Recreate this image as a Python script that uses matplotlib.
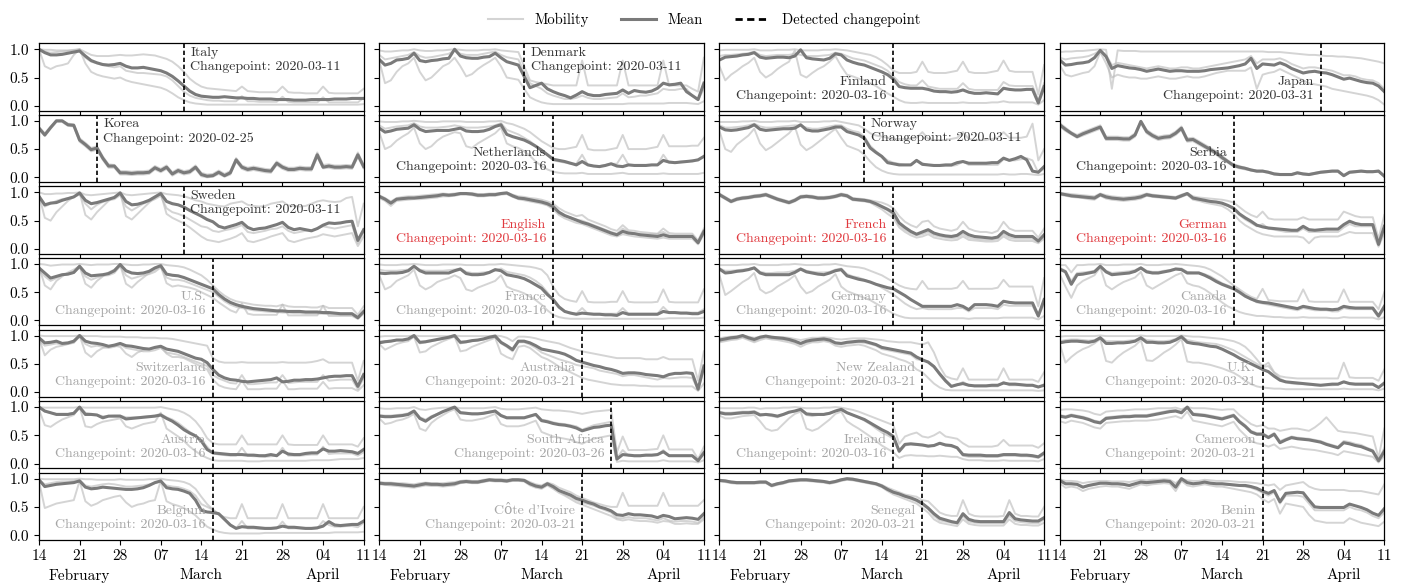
import numpy as np
import matplotlib
matplotlib.use('Agg')
import matplotlib.pyplot as plt
from matplotlib.lines import Line2D

plt.rcParams['font.family'] = ['cmr10', 'DejaVu Serif']
plt.rcParams['mathtext.fontset'] = 'cm'
plt.rcParams['axes.formatter.use_mathtext'] = True
plt.rcParams['axes.unicode_minus'] = False

# day index 0..56 = 2020-02-14 .. 2020-04-11 (no Feb 29 in the data)
tick_pos = [0, 7, 14, 21, 28, 35, 42, 49, 56]
tick_labels = ['14', '21\nFebruary', '28', '07', '14\nMarch', '21', '28', '04\nApril', '11']

# values in percent of baseline, one list per day
italy_mean = [100,94,90,90,91,93,95, 97,88,80,76,73,72,73, 75,70,67,67,68,66,64, 62,58,52,44,35,26,20,
              17,16,15,15,16,15,14, 14,13,13,12,12,12,11, 11,11,10,10,10,11,11, 11,11,12,12,12,13,13, 13]
italy_mob = [
    [100,99,99,98,98,98,99, 100,95,90,88,88,88,89, 90,89,89,90,91,90,89, 86,83,78,70,60,48,40,
     34,31,30,29,28,27,26, 34,26,25,24,24,24,24, 34,24,23,23,22,22,22, 34,23,22,22,22,22,22, 30],
    [100,70,65,70,72,75,90, 100,75,60,55,52,50,48, 50,45,42,40,38,36,34, 32,28,22,15,10,6,4,
     3,2,2,2,2,2,2, 2,2,2,2,2,2,2, 2,2,2,2,2,2,2, 2,2,2,2,2,2,2, 3],
    [100,96,94,95,96,97,98, 100,85,78,75,72,70,68, 70,62,60,58,58,57,56, 55,52,45,35,25,18,14,
     12,10,9,9,8,8,8, 17,8,8,7,7,7,7, 16,7,6,6,6,6,6, 15,6,6,6,6,6,6, 14],
]

korea_mean = [87,75,88,100,100,93,92, 66,58,49,52,34,20,20, 8,8,7,8,8,9,17, 12,18,6,12,8,10,18,
              5,2,3,9,3,8,31, 18,14,16,14,12,11,25, 18,14,14,16,15,15,40, 18,20,18,18,19,18,40, 19]
korea_mob = [
    [89,78,90,100,100,95,94, 69,61,52,55,37,23,22, 11,11,10,11,11,12,20, 15,21,9,15,11,13,21,
     8,5,6,12,6,11,34, 21,17,19,17,15,14,28, 21,17,17,19,18,18,44, 22,23,21,21,22,21,44, 22],
    [85,73,86,98,98,91,90, 63,55,46,49,31,17,17, 5,5,4,5,5,6,14, 9,15,3,9,5,7,15,
     2,0,1,6,1,5,28, 15,11,13,11,9,8,22, 15,11,11,13,12,12,36, 16,17,15,15,16,15,36, 16],
]

sweden_mean = [93,78,81,82,86,89,92, 99,86,80,82,85,88,91, 99,84,78,79,82,86,92, 98,84,80,78,74,68,63,
               58,52,48,40,37,40,43, 47,38,34,36,37,40,43, 47,38,34,36,34,32,36, 42,46,45,46,48,49,15, 34]
sweden_mob = [
    [100,97,97,98,98,99,99, 100,96,95,96,97,98,99, 100,96,95,96,97,98,99, 100,97,96,95,93,90,86,
     84,80,78,76,75,80,82, 84,78,76,75,76,80,82, 84,77,76,75,76,80,84, 86,84,83,84,90,92,40, 80],
    [95,55,50,65,75,85,92, 100,60,52,65,75,85,92, 100,58,52,62,72,82,90, 98,62,55,50,45,38,30,
     22,16,14,12,15,18,22, 28,14,12,15,18,22,25, 28,15,12,15,18,20,22, 26,24,22,24,26,28,5, 22],
    [90,75,80,85,88,90,92, 96,80,70,78,83,86,88, 95,75,68,74,80,84,88, 94,72,65,62,58,52,46,
     40,38,32,30,33,35,38, 42,30,28,30,32,35,36, 40,32,28,30,32,33,36, 40,38,36,38,40,42,10, 30],
]

us_mean = [93,84,75,78,81,82,85, 96,84,79,80,81,83,88, 99,88,84,83,84,87,93, 97,82,80,79,76,72,68,
           64,60,56,46,38,32,28, 25,23,21,20,19,18,17, 17,16,16,16,15,15,15, 14,14,13,12,12,12,5, 16]
us_mob = [
    [100,99,97,98,99,99,99, 100,99,98,99,99,99,100, 100,99,98,98,99,99,100, 100,98,97,96,94,90,85,
     80,72,62,52,44,38,34, 32,30,28,27,26,26,25, 28,25,24,24,24,23,23, 26,22,22,22,22,22,10, 25],
    [95,62,55,70,78,85,90, 96,65,58,70,78,85,90, 98,65,58,68,76,84,90, 96,66,60,62,60,58,55,
     50,45,40,32,25,18,14, 30,12,10,10,10,10,10, 28,9,9,9,9,9,9, 26,8,8,8,8,8,3, 12],
    [90,78,70,75,80,82,84, 94,78,72,76,79,80,84, 96,80,74,77,80,82,86, 94,76,72,72,70,66,62,
     58,54,50,42,34,28,24, 22,20,18,17,16,15,15, 14,14,13,13,12,12,12, 12,11,11,10,10,10,3, 14],
]

switzerland_mean = [96,87,88,90,86,87,90, 100,90,87,86,84,81,83, 86,82,81,79,77,76,79, 81,76,74,72,68,64,60,
                    58,52,40,30,25,22,21, 19,18,19,20,21,22,25, 18,19,21,21,22,22,23, 25,27,28,28,29,29,10, 31]
switzerland_mob = [
    [100,99,99,99,99,99,99, 100,99,99,99,98,98,98, 98,97,97,97,96,96,96, 95,95,94,92,90,88,86,
     84,82,60,54,52,52,52, 53,52,52,52,52,52,52, 53,52,52,52,52,53,55, 58,52,52,52,52,52,20, 55],
    [95,65,75,80,82,85,88, 100,70,62,72,78,80,82, 80,68,62,70,74,76,78, 80,68,62,62,60,55,50,
     45,40,22,12,8,6,5, 20,5,5,5,6,6,6, 20,5,5,6,6,6,6, 18,6,7,7,7,7,2, 12],
    [92,82,84,86,84,85,87, 98,85,80,82,80,78,80, 84,78,76,74,72,72,74, 78,70,68,66,62,58,54,
     50,46,30,24,20,16,15, 30,14,14,15,16,17,17, 30,16,17,18,18,18,18, 30,20,21,22,22,22,5, 25],
]

austria_mean = [100,93,90,87,87,87,89, 100,87,87,86,81,84,84, 84,79,80,81,82,83,84, 86,80,75,68,60,54,49,
                40,25,19,18,17,16,16, 16,15,15,14,14,16,14, 22,17,16,16,18,19,19, 26,22,22,23,22,21,18, 25]
austria_mob = [
    [100,99,99,99,99,99,99, 100,99,99,99,99,99,99, 99,99,99,99,99,99,99, 100,98,96,94,90,84,75,
     62,45,36,34,34,34,34, 50,34,34,34,34,34,34, 50,34,33,33,33,33,33, 50,34,34,34,34,34,30, 45],
    [96,68,65,72,78,82,86, 100,66,64,70,74,76,78, 80,66,62,66,70,72,74, 90,62,55,48,40,30,22,
     15,10,6,5,5,5,5, 5,4,4,4,5,5,5, 5,5,5,5,5,6,6, 6,6,7,8,8,8,8, 10],
    [100,92,90,88,88,88,90, 100,90,88,86,84,84,85, 85,82,82,82,83,84,85, 88,82,78,72,64,56,50,
     42,30,18,16,15,14,14, 28,14,13,13,12,13,14, 28,14,14,14,15,16,16, 30,17,18,18,18,18,14, 20],
]

belgium_mean = [98,86,88,90,91,92,93, 96,85,82,83,85,84,83, 82,81,81,82,84,88,93, 96,84,82,81,78,74,62,
                44,41,40,38,28,18,12, 15,14,14,13,12,12,13, 16,14,14,13,12,12,13, 16,24,18,17,18,19,19, 25]
belgium_mob = [
    [100,99,99,99,99,99,99, 100,99,99,98,98,98,98, 99,98,98,98,98,99,99, 100,98,97,96,94,90,82,
     68,55,45,36,32,30,30, 55,30,30,30,30,30,30, 55,30,30,30,30,30,30, 55,30,30,30,30,30,30, 50],
    [95,48,52,56,58,60,62, 96,60,52,56,62,65,68, 70,58,50,54,56,60,62, 96,60,55,52,48,42,35,
     25,15,10,6,4,3,3, 3,3,3,3,4,4,4, 4,4,4,4,4,4,4, 4,4,5,5,5,5,5, 6],
    [98,90,92,94,95,95,96, 98,88,86,88,90,91,90, 88,86,86,87,88,90,92, 95,88,86,85,82,78,70,
     55,50,45,38,28,18,12, 25,12,12,11,11,11,12, 24,12,12,12,11,11,12, 25,18,15,15,16,16,14, 22],
]

denmark_mean = [82,72,75,81,82,84,93, 80,78,80,81,83,84,100, 88,85,84,84,86,87,93, 85,78,75,72,52,32,36,
                40,30,25,21,18,14,19, 25,20,18,18,20,21,22, 28,22,27,25,24,26,31, 40,37,38,40,25,18,11, 40]
denmark_mob = [
    [98,96,96,97,98,98,100, 98,97,97,98,98,99,100, 99,98,98,98,99,99,100, 98,97,96,95,70,45,42,
     40,38,36,36,36,36,36, 80,36,36,36,36,36,36, 80,36,36,36,36,36,36, 80,36,36,36,36,30,25, 85],
    [80,40,45,60,70,75,85, 60,45,50,60,70,75,85, 70,52,56,65,72,78,85, 70,50,48,46,30,15,10,
     6,4,3,3,3,3,3, 3,3,3,3,3,3,3, 3,4,4,4,4,4,4, 4,5,5,5,5,4,3, 8],
    [90,82,84,86,88,90,95, 88,85,86,88,90,92,98, 92,90,90,90,92,94,96, 90,86,84,82,60,40,35,
     30,22,18,15,12,12,14, 18,14,12,12,13,14,15, 22,15,16,18,18,20,22, 30,28,28,30,30,18,10, 30],
]

netherlands_mean = [87,80,82,85,86,87,93, 85,81,82,83,83,83,85, 87,82,81,81,82,85,90, 93,76,72,69,66,61,55,
                    48,40,32,30,28,25,22, 28,22,20,19,21,24,20, 19,22,21,21,21,22,22, 30,27,26,27,28,29,31, 37]
netherlands_mob = [
    [99,98,98,98,99,99,100, 99,98,98,98,99,99,99, 99,98,98,98,98,99,99, 100,96,94,90,86,80,72,
     64,58,52,50,50,52,54, 75,50,48,48,48,50,52, 75,50,50,50,50,52,54, 75,55,55,55,55,56,56, 70],
    [80,50,55,65,72,78,88, 60,50,55,65,72,76,80, 78,55,52,60,66,72,78, 88,60,55,52,46,38,28,
     20,14,10,8,7,7,7, 8,6,6,6,6,6,7, 8,6,6,6,6,6,6, 7,6,6,6,6,6,6, 8],
    [92,86,88,90,91,92,96, 90,88,88,88,89,90,92, 90,88,88,88,89,90,92, 96,84,80,76,70,64,56,
     48,40,30,28,26,24,24, 40,22,20,20,22,24,24, 40,22,22,22,22,22,22, 40,26,26,28,28,30,30, 38],
]

english_mean = [93,88,81,88,89,90,90, 91,92,93,94,96,95,96, 98,98,97,95,95,96,96, 98,99,94,90,89,87,85,
                83,80,75,65,59,55,51, 47,44,40,36,32,28,25, 31,28,27,25,24,23,22, 25,22,22,22,22,22,11, 31]
english_mob = [
    [95,90,84,90,92,93,93, 94,95,96,97,98,97,98, 99,99,99,97,97,98,98, 99,100,96,93,92,90,89,
     87,84,80,72,66,62,58, 60,52,48,44,40,35,32, 42,33,32,30,29,28,27, 36,28,27,27,27,27,15, 36],
    [90,85,76,85,86,87,88, 88,89,90,91,93,93,94, 96,96,95,93,93,94,94, 96,97,92,88,86,84,82,
     80,77,70,60,54,50,46, 44,40,36,32,28,24,22, 26,24,22,21,20,19,18, 20,18,18,18,18,18,8, 26],
    [93,88,80,88,89,90,90, 91,92,93,94,96,95,96, 98,98,97,95,95,96,96, 98,99,93,89,88,86,84,
     82,78,73,62,58,56,52, 50,46,42,38,34,30,27, 36,30,28,26,26,26,26, 30,24,24,24,24,24,10, 30],
]

france_mean = [84,83,84,84,85,88,96, 88,84,84,84,84,84,88, 91,83,81,81,82,85,90, 88,81,79,77,74,69,63,
               57,46,37,24,16,13,11, 13,12,11,11,10,10,9, 14,11,11,11,11,11,11, 16,14,14,13,13,12,12, 16]
france_mob = [
    [99,98,98,98,99,99,100, 99,98,98,98,99,99,99, 99,98,98,98,98,99,99, 100,99,98,97,96,95,93,
     90,80,60,45,38,35,33, 52,33,32,32,32,33,33, 52,33,32,32,32,32,33, 55,33,32,32,32,32,32, 55],
    [80,55,60,70,75,80,90, 62,55,60,68,72,75,80, 75,55,52,58,62,66,70, 80,60,55,52,48,42,36,
     28,18,10,6,4,3,3, 3,3,3,3,3,3,3, 3,3,3,3,3,3,3, 3,4,4,4,4,4,4, 5],
    [90,88,88,88,89,90,96, 90,88,88,88,88,89,90, 92,86,84,84,85,86,88, 92,86,84,82,80,76,70,
     62,50,36,22,16,14,12, 22,12,12,12,12,12,12, 22,12,12,12,12,12,12, 24,14,14,14,14,14,14, 20],
]

australia_mean = [87,89,90,92,92,94,100, 88,89,91,93,95,97,100, 88,89,91,92,94,97,99, 88,82,75,90,90,87,82,
                  76,74,72,70,67,62,56, 53,50,47,45,42,40,37, 33,34,34,33,31,30,29, 27,31,33,33,34,33,5, 46]
australia_mob = [
    [98,99,99,99,99,99,100, 99,99,99,99,99,99,100, 99,99,99,99,99,99,100, 99,96,90,98,98,97,95,
     92,90,88,86,82,78,75, 72,70,68,66,64,62,60, 60,60,60,60,58,58,58, 62,58,58,58,58,58,20, 72],
    [85,75,80,85,88,90,98, 70,72,80,85,90,94,98, 72,74,80,84,88,92,96, 68,62,58,80,82,78,70,
     62,58,52,45,40,35,30, 25,22,20,18,16,14,13, 12,12,12,11,11,10,10, 10,10,10,10,10,10,2, 15],
    [90,90,91,92,92,93,98, 86,88,90,92,94,96,98, 86,88,90,91,93,95,98, 86,80,72,88,88,84,78,
     70,66,62,58,55,52,48, 46,44,42,38,36,34,32, 28,30,30,28,26,24,22, 25,24,25,26,26,25,4, 40],
]

south_africa_mean = [84,83,83,84,85,87,93, 80,75,82,87,92,96,100, 90,89,88,88,89,91,93, 85,81,81,81,81,84,87,
                     76,74,71,69,68,66,63, 58,61,64,65,67,68,8, 16,15,14,14,15,15,16, 21,14,14,14,14,14,5, 19]
south_africa_mob = [
    [98,97,97,98,98,98,100, 96,95,97,98,99,99,100, 98,98,98,98,98,99,100, 97,96,96,96,97,98,99,
     96,95,94,94,93,92,90, 88,90,92,93,94,95,20, 48,24,24,24,24,25,26, 50,25,25,25,25,25,8, 30],
    [80,70,72,76,78,82,88, 62,58,72,80,86,92,96, 78,76,76,78,80,84,88, 70,66,66,66,68,72,76,
     56,52,48,46,44,42,38, 35,40,44,46,48,50,3, 5,4,4,4,4,4,4, 6,4,4,4,4,4,2, 6],
    [86,85,85,86,87,89,94, 82,78,84,88,93,96,100, 91,90,89,89,90,92,94, 86,82,82,82,82,85,88,
     78,76,73,71,70,68,66, 60,64,68,70,72,74,10, 24,14,13,13,14,14,15, 24,14,14,14,14,14,5, 22],
]

cote_mean = [92,91,91,90,89,88,87, 89,91,90,90,89,90,91, 94,95,94,94,96,98,97, 97,96,98,98,97,91,87,
             85,91,86,79,75,71,65, 62,58,55,50,47,43,36, 35,38,36,36,35,34,31, 35,33,29,30,31,30,28, 38]
cote_mob = [
    [94,93,93,92,92,91,90, 92,93,92,92,92,93,94, 96,97,96,96,98,99,99, 99,98,99,99,98,94,90,
     88,93,90,84,80,76,70, 66,62,58,55,52,50,50, 75,52,52,52,52,52,52, 75,52,52,52,52,52,52, 62],
    [90,89,88,87,86,85,84, 86,88,87,87,86,87,88, 92,93,92,92,94,96,95, 95,94,96,96,95,88,84,
     82,88,82,75,70,64,58, 54,50,46,42,38,34,28, 26,28,26,25,25,24,22, 25,24,20,20,21,20,20, 28],
    [91,90,90,89,88,87,86, 88,90,89,89,88,89,90, 93,94,93,93,95,97,96, 96,95,97,97,96,90,86,
     84,90,84,78,72,68,62, 58,55,52,48,44,40,30, 30,32,30,30,30,28,26, 30,26,24,25,25,24,22, 32],
]

finland_mean = [81,86,87,88,90,91,94, 86,84,85,86,86,85,88, 99,85,83,82,81,84,92, 90,81,77,74,72,68,64,
                60,55,47,34,32,31,31, 31,29,26,25,25,24,25, 28,24,22,22,23,22,21, 31,29,28,28,29,29,5, 34]
finland_mob = [
    [98,99,99,99,99,99,100, 98,98,98,99,99,99,100, 98,98,98,98,99,99,100, 99,98,96,94,92,90,86,
     80,72,62,58,58,58,60, 78,60,58,58,58,60,62, 78,60,58,58,58,60,62, 80,62,60,60,60,60,20, 72],
    [70,45,55,62,70,76,85, 60,50,56,65,72,78,98, 55,50,58,65,70,78,88, 70,55,52,48,45,40,35,
     28,22,16,10,6,5,5, 6,5,5,5,5,5,5, 6,5,5,5,5,6,6, 8,6,6,6,6,6,2, 10],
    [88,90,90,91,92,93,96, 90,88,89,90,90,90,92, 90,88,88,88,89,90,94, 92,88,84,82,80,76,72,
     68,62,52,42,38,36,36, 45,34,32,30,30,30,30, 40,30,28,28,28,28,28, 42,36,35,35,35,35,10, 40],
]

norway_mean = [89,84,83,84,86,88,93, 85,83,84,85,86,86,87, 93,84,82,82,84,86,89, 89,81,78,75,69,52,44,
               37,26,24,22,22,22,30, 23,22,21,21,22,22,26, 28,25,25,25,25,26,26, 34,30,33,37,31,11,9, 19]
norway_mob = [
    [98,98,98,98,99,99,100, 98,98,98,99,99,99,100, 98,98,98,98,99,99,100, 98,96,94,92,86,78,74,
     72,70,68,68,68,68,70, 80,68,66,66,66,68,70, 80,68,66,66,66,68,70, 80,70,70,70,72,95,30, 50],
    [82,50,45,58,66,74,86, 60,48,54,62,70,78,90, 58,48,54,62,70,78,86, 70,56,52,48,40,28,18,
     12,8,6,5,5,5,5, 5,5,5,5,5,5,5, 5,5,5,5,5,5,5, 6,5,5,6,6,5,4, 6],
    [92,88,88,89,90,92,95, 90,88,88,89,90,91,92, 92,88,86,86,88,90,92, 92,86,82,80,72,56,46,
     38,30,26,24,22,22,30, 25,22,20,20,20,20,22, 28,22,22,22,22,22,22, 32,30,30,32,34,30,8, 15],
]

french_mean = [96,90,84,88,90,91,93, 94,96,92,88,85,82,86, 92,93,92,90,90,91,93, 96,94,88,87,86,84,80,
               75,70,64,46,38,31,26, 30,34,28,25,23,22,24, 31,25,22,21,20,19,21, 31,25,22,22,22,22,14, 25]
french_mob = [
    [98,92,86,90,92,93,95, 96,98,94,90,87,84,88, 94,95,94,92,92,93,95, 98,96,90,89,88,86,84,
     82,78,72,58,48,42,38, 48,50,40,36,34,32,35, 48,36,32,30,30,28,32, 48,36,32,32,32,32,20, 36],
    [94,88,82,86,88,89,91, 92,94,90,86,83,80,84, 90,91,90,88,88,89,91, 94,92,86,85,84,82,76,
     70,62,55,38,30,24,20, 22,26,20,18,16,15,16, 22,16,15,14,13,13,14, 22,16,14,14,14,14,10, 18],
    [95,90,83,88,89,90,92, 93,95,91,87,84,81,85, 91,92,91,89,89,90,92, 95,93,87,86,85,83,79,
     74,68,60,42,34,28,24, 26,30,24,22,20,19,20, 26,20,18,17,16,16,18, 26,20,18,18,18,18,12, 22],
]

germany_mean = [91,84,85,87,88,90,93, 84,81,81,81,81,81,85, 91,86,84,82,81,84,88, 90,79,76,73,71,68,64,
                61,58,56,50,44,37,31, 25,25,25,25,25,25,28, 25,19,28,28,28,27,25, 34,32,31,31,31,31,8, 37]
germany_mob = [
    [98,98,98,98,99,99,100, 98,98,98,98,99,99,100, 99,98,98,98,99,99,100, 98,96,95,94,92,88,84,
     80,74,68,62,58,56,55, 70,56,56,56,56,56,58, 70,56,56,56,56,56,58, 72,60,60,60,60,60,25, 75],
    [80,45,52,60,68,74,84, 55,48,52,60,66,72,80, 60,48,52,60,66,72,82, 60,52,48,44,40,36,30,
     24,18,12,8,5,4,4, 4,4,4,4,4,4,4, 4,3,4,4,4,4,4, 5,5,5,5,5,5,2, 8],
    [92,88,88,89,90,91,94, 86,84,84,85,85,86,88, 92,88,86,85,85,86,90, 92,82,78,76,72,68,64,
     58,52,46,38,30,24,20, 22,20,20,20,20,20,22, 22,16,22,22,22,22,20, 28,26,26,26,26,26,6, 30],
]

nz_mean = [92,94,96,97,100,96,93, 97,99,97,96,95,93,90, 86,90,92,93,94,92,87, 86,88,89,90,90,87,84,
           79,77,75,73,71,69,62, 57,53,45,32,20,10,13, 15,12,11,11,11,12,12, 16,14,14,13,12,12,9, 12]
nz_mob = [
    [95,97,98,99,100,98,96, 98,99,98,97,97,96,94, 92,94,96,96,97,96,94, 93,94,95,95,95,94,93,
     92,90,89,88,88,88,86, 84,88,70,45,28,24,22, 42,22,22,22,22,22,22, 42,22,22,22,22,22,18, 35],
    [88,90,92,93,96,92,88, 92,95,93,92,90,88,85, 80,85,88,88,90,88,82, 80,82,83,84,82,78,74,
     68,65,62,58,55,50,40, 35,25,15,8,4,3,3, 3,3,3,3,3,3,3, 3,3,3,3,3,3,2, 3],
    [90,92,94,95,98,94,90, 95,97,95,94,93,91,88, 84,88,90,91,92,90,86, 84,86,87,88,87,85,82,
     76,74,72,70,68,66,58, 56,54,46,30,18,10,12, 18,12,10,10,10,10,10, 18,12,12,12,12,12,8, 14],
]

ireland_mean = [90,88,88,89,90,90,91, 86,87,86,84,87,91,93, 96,88,87,87,87,89,93, 96,90,86,82,78,72,66,
                60,55,48,22,34,35,34, 33,31,32,36,33,32,28, 16,15,15,15,14,14,14, 16,16,16,15,15,14,12, 19]
ireland_mob = [
    [98,98,98,98,98,99,99, 97,98,98,98,99,99,100, 99,98,98,98,99,99,100, 99,97,95,92,88,84,80,
     76,72,68,35,48,52,55, 48,46,50,56,48,46,44, 36,30,30,30,30,30,32, 42,32,32,32,32,32,28, 36],
    [85,80,80,82,84,85,86, 75,62,58,60,70,80,88, 92,62,58,62,70,78,88, 92,75,68,62,55,48,40,
     32,26,20,10,14,15,14, 14,13,13,14,13,12,12, 8,6,6,6,5,5,5, 6,5,5,5,5,5,4, 8],
    [92,90,90,91,92,92,93, 88,86,84,82,86,90,93, 96,86,84,86,88,90,93, 96,90,86,82,76,70,62,
     55,50,44,20,32,34,33, 32,30,32,36,32,30,28, 14,12,12,12,12,12,12, 14,14,14,13,13,12,10, 16],
]

senegal_mean = [97,96,94,93,93,93,93, 94,94,88,91,93,96,97, 98,98,97,96,95,93,95, 98,100,99,97,95,93,91,
                87,81,76,73,69,66,62, 56,48,38,30,27,24,22, 38,28,25,24,24,24,24, 24,40,29,27,26,25,25, 31]
senegal_mob = [
    [98,97,95,94,94,94,94, 95,95,89,92,94,97,98, 99,99,98,97,96,94,96, 99,100,100,98,96,94,92,
     89,84,80,76,72,70,68, 62,60,50,40,36,34,34, 62,38,34,33,33,33,33, 34,62,38,34,34,33,33, 50],
    [95,94,92,91,91,91,91, 92,92,86,89,91,94,95, 96,96,95,94,93,91,93, 96,98,97,95,93,91,89,
     85,78,72,68,64,60,56, 48,40,28,22,20,18,16, 28,20,18,17,17,17,17, 17,28,20,18,18,17,17, 22],
    [96,95,93,92,92,92,92, 93,93,87,90,92,95,96, 97,97,96,95,94,92,94, 97,99,98,96,94,92,90,
     86,80,76,72,68,64,60, 54,46,34,26,24,22,20, 34,24,22,21,21,21,21, 21,34,25,23,22,21,21, 28],
]

japan_mean = [81,72,73,75,76,78,85, 98,87,66,71,69,67,66, 64,61,63,65,63,61,62, 62,61,61,61,62,64,65,
              66,67,69,71,74,84,66, 74,73,72,76,72,66,62, 58,60,61,59,58,55,51, 47,49,46,43,41,40,35, 25]
japan_mob = [
    [95,96,96,97,97,98,99, 100,99,30,98,97,97,97, 96,96,96,96,96,96,96, 96,96,96,96,96,96,96,
     96,96,96,96,96,96,96, 96,95,95,95,94,93,92, 91,90,90,89,88,88,87, 87,86,85,84,82,80,78, 75],
    [72,55,52,55,58,60,70, 95,75,50,55,52,50,50, 48,48,50,52,50,48,48, 50,52,50,50,52,55,58,
     60,62,62,62,62,68,30, 55,58,60,65,60,55,50, 45,40,38,36,34,30,28, 26,24,22,20,18,15,10, 2],
    [85,82,84,85,86,88,92, 98,90,72,76,74,72,70, 68,66,68,70,68,66,66, 68,68,66,66,68,70,72,
     74,76,78,80,82,88,75, 82,82,82,84,80,74,70, 66,68,68,66,64,62,58, 54,54,52,48,46,45,40, 30],
]

serbia_mean = [93,85,78,72,77,81,85, 89,69,69,69,68,68,75, 99,81,74,69,71,72,78, 87,66,67,61,55,49,43,
               35,28,21,18,16,13,11, 11,9,6,5,5,5,8, 6,5,7,9,10,11,11, 3,9,10,11,10,10,11, 2]
serbia_mob = [
    [96,88,80,75,80,84,88, 92,72,72,72,71,71,78, 100,84,77,72,74,75,81, 90,69,70,64,58,52,46,
     38,30,23,20,17,14,12, 12,10,7,6,6,6,9, 7,6,8,10,11,12,12, 4,10,11,12,11,11,12, 3],
    [90,82,76,70,74,78,82, 86,66,66,66,65,65,72, 96,78,71,66,68,69,75, 84,63,64,58,52,46,40,
     32,26,19,16,14,12,10, 10,8,5,4,4,4,7, 5,4,6,8,9,10,10, 2,8,9,10,9,9,10, 1],
]

german_mean = [98,96,94,93,92,91,90, 96,92,90,89,88,89,90, 92,96,94,93,92,91,90, 94,98,90,88,86,84,83,
               81,77,72,62,55,49,42, 39,37,36,35,34,33,33, 40,34,33,34,35,35,35, 43,49,45,43,43,43,8, 40]
german_mob = [
    [99,98,97,96,95,94,93, 98,95,93,92,91,92,93, 95,98,96,95,94,93,92, 96,99,93,91,90,89,88,
     87,85,82,74,66,60,56, 66,54,52,52,52,52,52, 56,52,52,52,52,52,52, 66,62,58,56,56,56,18, 60],
    [96,94,92,91,90,88,87, 94,89,87,86,85,86,87, 89,94,92,91,90,89,88, 92,96,87,85,82,80,78,
     76,70,62,50,42,36,30, 26,24,22,22,22,22,22, 20,10,20,22,22,22,22, 26,30,28,28,28,28,4, 28],
    [97,95,93,92,91,90,89, 95,91,89,88,87,88,89, 91,95,93,92,91,90,89, 93,97,89,87,85,83,82,
     80,76,70,60,52,46,40, 44,36,34,32,30,30,30, 36,30,30,30,30,30,30, 38,44,40,40,40,40,8, 38],
]

canada_mean = [91,86,64,81,82,84,86, 96,86,81,82,83,84,87, 93,86,84,84,86,88,91, 90,84,84,84,80,75,69,
               64,60,56,50,43,38,34, 32,31,29,27,25,23,21, 25,23,21,20,20,19,20, 25,23,22,22,22,22,8, 25]
canada_mob = [
    [98,98,85,98,98,99,99, 100,98,98,98,99,99,99, 100,98,98,98,99,99,100, 99,98,97,96,94,90,84,
     78,70,62,55,48,42,38, 56,36,35,34,34,34,34, 55,34,33,33,33,33,33, 55,33,33,33,33,33,20, 50],
    [82,60,40,62,70,75,80, 94,62,55,62,68,72,76, 86,62,56,62,68,74,80, 84,66,62,60,55,48,40,
     32,25,20,15,12,10,8, 8,7,6,6,5,5,5, 6,5,5,5,5,4,4, 6,5,5,5,5,5,2, 6],
    [93,88,70,84,85,86,88, 96,88,84,85,86,87,89, 94,88,86,86,88,89,92, 92,86,85,85,82,78,72,
     66,62,58,52,44,38,32, 30,28,26,24,22,20,18, 22,20,18,18,18,16,16, 22,20,20,20,20,20,5, 22],
]

uk_mean = [87,89,90,90,89,88,90, 96,86,86,87,87,88,90, 96,88,88,87,87,88,92, 98,88,86,85,83,81,80,
           76,71,66,60,55,50,45, 40,36,28,21,18,17,16, 15,14,13,12,13,14,14, 18,15,14,14,14,14,8, 16]
uk_mob = [
    [98,99,99,99,99,99,99, 100,99,99,99,99,99,99, 100,99,99,99,99,99,99, 100,99,98,98,97,96,95,
     94,92,90,86,80,70,58, 45,52,35,28,26,25,24, 24,24,24,24,24,24,24, 52,26,25,25,25,25,20, 40],
    [85,52,62,70,76,80,86, 94,55,52,62,70,76,82, 92,56,55,62,70,76,84, 94,54,52,52,50,48,45,
     42,38,34,28,20,14,10, 8,7,6,6,5,5,5, 5,5,5,5,5,5,5, 6,5,5,5,5,5,3, 6],
    [90,92,93,93,92,91,92, 97,90,90,90,90,91,92, 97,92,91,90,90,91,94, 98,92,90,88,87,86,85,
     82,78,74,68,62,56,50, 44,46,34,24,18,15,14, 14,13,12,12,12,12,13, 18,14,13,13,13,13,8, 15],
]

cameroon_mean = [84,82,85,83,81,78,74, 72,80,81,82,83,83,84, 84,84,86,88,90,92,93, 90,100,87,86,85,83,81,
                 79,82,85,74,66,56,52, 52,46,52,37,42,46,44, 43,42,40,38,34,31,28, 37,35,32,30,26,22,5, 22]
cameroon_mob = [
    [95,96,96,95,94,92,88, 86,92,93,94,94,95,96, 96,96,97,98,98,98,99, 96,100,98,98,98,97,96,
     95,96,96,86,78,70,66, 68,62,62,58,60,62,62, 60,58,64,72,82,70,58, 56,55,54,52,50,48,10, 62],
    [75,72,76,74,72,68,64, 62,72,73,74,75,75,76, 76,76,77,78,80,82,84, 80,92,76,74,72,70,68,
     66,70,74,60,50,40,36, 34,30,34,26,28,30,28, 26,25,24,22,20,18,15, 22,20,18,16,14,12,2, 14],
    [86,84,87,85,83,80,76, 74,82,83,84,85,85,86, 86,86,88,90,92,94,95, 92,100,89,88,87,85,83,
     81,84,87,76,68,58,54, 54,48,54,40,44,48,46, 45,44,42,40,36,33,30, 40,38,35,33,28,24,6, 28],
]

benin_mean = [97,91,91,90,85,88,90, 92,92,91,91,90,88,91, 94,93,94,95,96,95,85, 100,93,91,92,94,92,91,
              91,90,89,88,88,86,83, 78,74,79,59,74,75,76, 75,62,50,49,49,49,49, 49,55,52,49,45,39,35, 47]
benin_mob = [
    [99,96,96,95,92,94,95, 96,96,95,95,95,94,96, 98,97,98,98,99,98,92, 100,97,96,96,98,97,96,
     96,96,95,94,94,93,92, 90,88,90,80,88,90,92, 94,86,82,80,80,80,80, 80,78,78,78,76,74,72, 90],
    [92,84,86,84,78,82,84, 86,87,86,86,84,82,86, 90,88,90,91,92,91,78, 96,88,86,88,90,88,86,
     86,84,82,80,78,76,72, 64,58,64,38,56,54,52, 50,36,26,24,22,22,22, 22,30,26,22,20,18,16, 24],
    [95,90,90,89,84,87,89, 91,91,90,90,89,87,90, 93,92,93,94,95,94,84, 98,92,90,91,93,91,90,
     90,89,88,87,86,84,80, 75,70,76,56,70,70,70, 68,56,44,44,44,44,44, 44,50,46,44,40,34,30, 40],
]

# panel order, row by row (7 rows x 4 columns)
names = ['Italy', 'Denmark', 'Finland', 'Japan',
         'Korea', 'Netherlands', 'Norway', 'Serbia',
         'Sweden', 'English', 'French', 'German',
         'U.S.', 'France', 'Germany', 'Canada',
         'Switzerland', 'Australia', 'New Zealand', 'U.K.',
         'Austria', 'South Africa', 'Ireland', 'Cameroon',
         'Belgium', 'Côte d\'Ivoire', 'Senegal', 'Benin']
means = [italy_mean, denmark_mean, finland_mean, japan_mean,
         korea_mean, netherlands_mean, norway_mean, serbia_mean,
         sweden_mean, english_mean, french_mean, german_mean,
         us_mean, france_mean, germany_mean, canada_mean,
         switzerland_mean, australia_mean, nz_mean, uk_mean,
         austria_mean, south_africa_mean, ireland_mean, cameroon_mean,
         belgium_mean, cote_mean, senegal_mean, benin_mean]
mobs = [italy_mob, denmark_mob, finland_mob, japan_mob,
        korea_mob, netherlands_mob, norway_mob, serbia_mob,
        sweden_mob, english_mob, french_mob, german_mob,
        us_mob, france_mob, germany_mob, canada_mob,
        switzerland_mob, australia_mob, nz_mob, uk_mob,
        austria_mob, south_africa_mob, ireland_mob, cameroon_mob,
        belgium_mob, cote_mob, senegal_mob, benin_mob]
cp_idx = [25, 25, 30, 45,
          10, 30, 25, 30,
          25, 30, 30, 30,
          30, 30, 30, 30,
          30, 35, 35, 35,
          30, 40, 30, 35,
          30, 35, 35, 35]
cp_dates = ['2020-03-11', '2020-03-11', '2020-03-16', '2020-03-31',
            '2020-02-25', '2020-03-16', '2020-03-11', '2020-03-16',
            '2020-03-11', '2020-03-16', '2020-03-16', '2020-03-16',
            '2020-03-16', '2020-03-16', '2020-03-16', '2020-03-16',
            '2020-03-16', '2020-03-21', '2020-03-21', '2020-03-21',
            '2020-03-16', '2020-03-26', '2020-03-16', '2020-03-21',
            '2020-03-16', '2020-03-21', '2020-03-21', '2020-03-21']
label_right = ['Italy', 'Denmark', 'Korea', 'Norway', 'Sweden']
label_black = ['Italy', 'Denmark', 'Finland', 'Japan', 'Korea', 'Netherlands', 'Norway', 'Serbia', 'Sweden']
label_red = ['English', 'French', 'German']

mob_color = '#b8b8b8'
mean_color = '#7a7a7a'

fig, axes = plt.subplots(7, 4, figsize=(14.08, 5.87), dpi=100, sharex=True, sharey=True)
fig.subplots_adjust(left=0.0277, right=0.9832, top=0.9262, bottom=0.0801, wspace=0.048, hspace=0.064)

for ax, name, mean, mob, cp, cpd in zip(axes.flat, names, means, mobs, cp_idx, cp_dates):
    for m in mob:
        ax.plot(np.arange(len(m)), np.array(m) / 100, color=mob_color, alpha=0.6, lw=1.4, zorder=1)
    ax.plot(np.arange(len(mean)), np.array(mean) / 100, color=mean_color, lw=2.2, zorder=2)
    ax.axvline(cp, color='k', ls=(0, (2.6, 1.6)), lw=1.2, zorder=3)

    if name in label_black:
        tc = '#333333'
    elif name in label_red:
        tc = '#e0393e'
    else:
        tc = '#a6a6a6'
    txt = name + '\nChangepoint: ' + cpd
    if name in label_right:
        ax.text(cp + 1.1, 0.95, txt, transform=ax.get_xaxis_transform(), ha='left', va='top',
                fontsize=10, color=tc, linespacing=1.2, zorder=4)
    else:
        ax.text(cp - 1.2, 0.13, txt, transform=ax.get_xaxis_transform(), ha='right', va='bottom',
                fontsize=10, color=tc, linespacing=1.2, zorder=4)

    ax.set_xlim(0, 56)
    ax.set_ylim(-0.085, 1.105)
    ax.set_yticks([0, 0.5, 1.0])
    ax.set_yticklabels(['0.0', '0.5', '1.0'])
    ax.set_xticks(tick_pos)
    ax.set_xticklabels(tick_labels)
    for lab in ax.get_xticklabels():
        lab.set_linespacing(1.45)
    ax.tick_params(labelsize=11, length=3.5, width=0.8)
    for s in ax.spines.values():
        s.set_linewidth(0.9)

handles = [Line2D([], [], color=mob_color, alpha=0.6, lw=1.5),
           Line2D([], [], color=mean_color, lw=2.2),
           Line2D([], [], color='k', ls=(0, (2.6, 1.6)), lw=2.0)]
fig.legend(handles, ['Mobility', 'Mean', 'Detected changepoint'], loc='upper center',
           bbox_to_anchor=(0.5, 1.0), ncol=3, frameon=False, fontsize=10.5,
           handlelength=2.4, columnspacing=2.2)

fig.savefig('out.png', dpi=100)
